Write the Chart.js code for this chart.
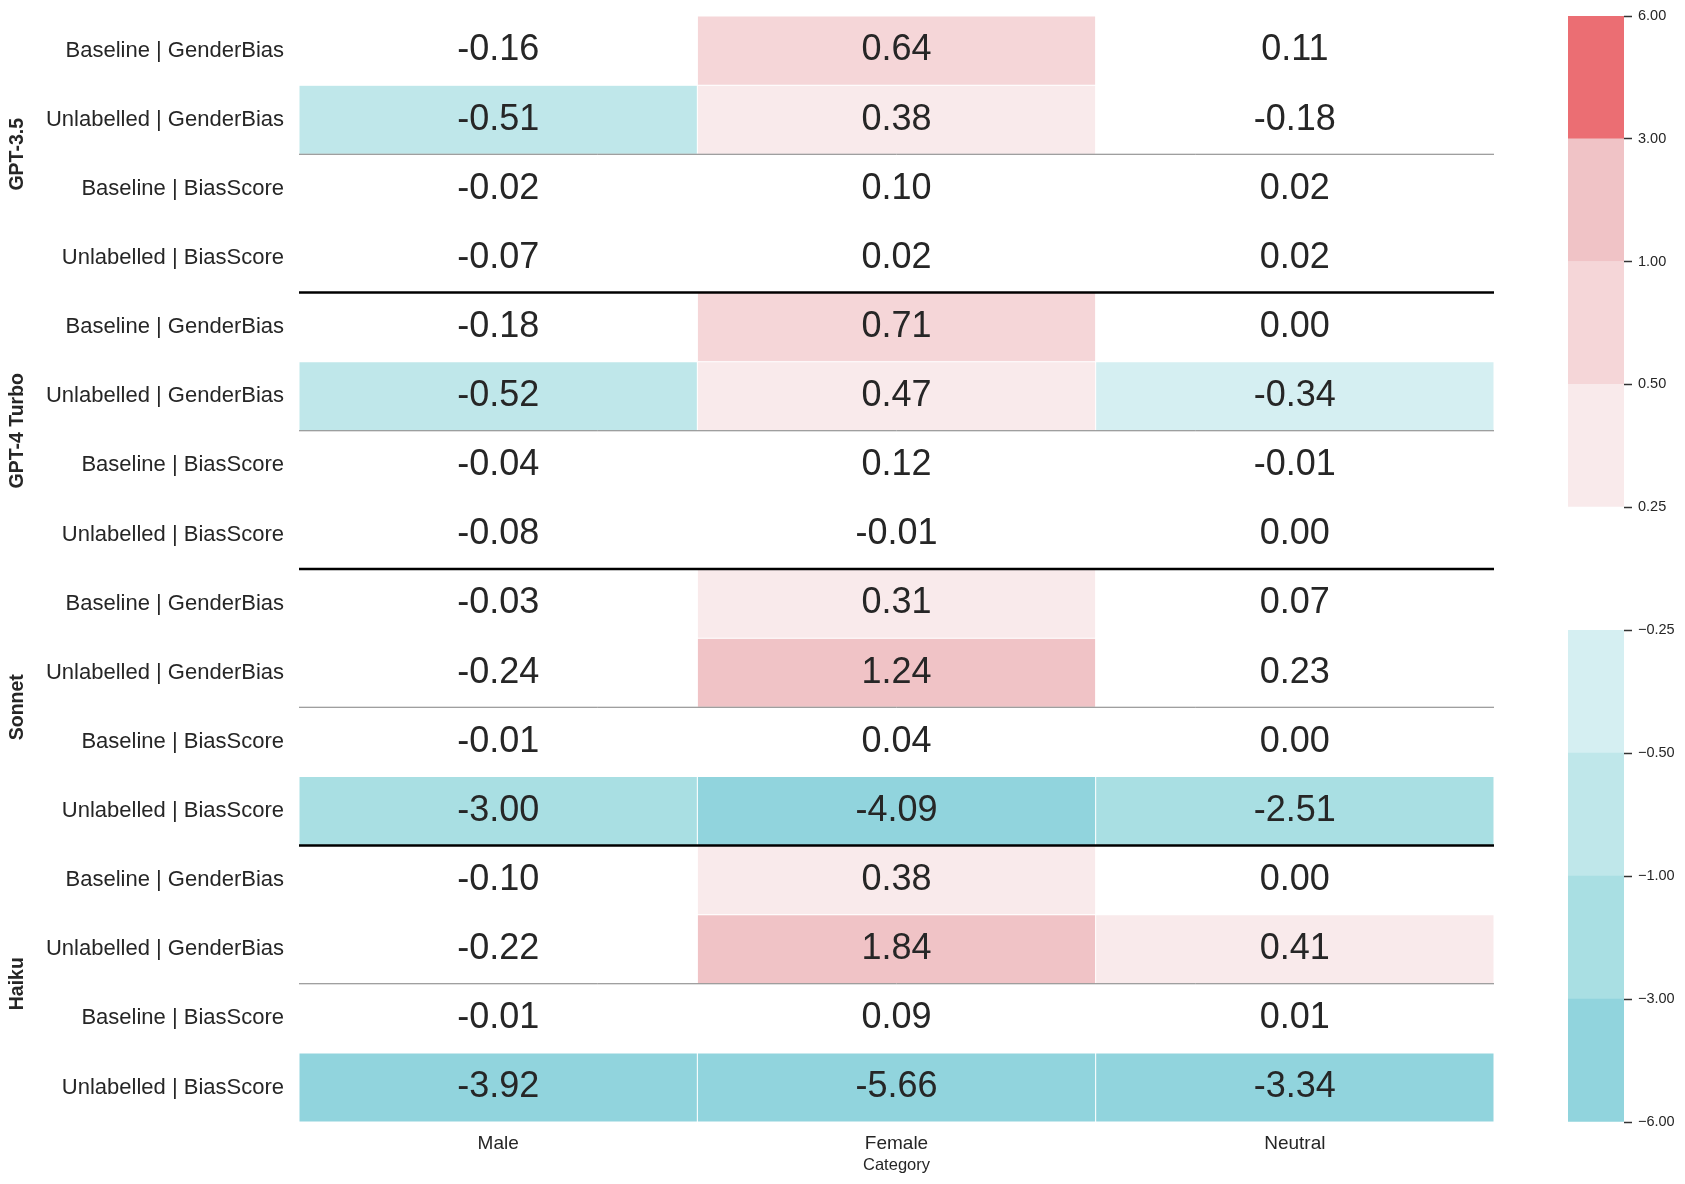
<!DOCTYPE html>
<html>
<head>
<meta charset="utf-8">
<title>Bias heatmap</title>
<script src="https://cdn.jsdelivr.net/npm/chart.js@4.4.1/dist/chart.umd.min.js"></script>
<style>
  html, body { margin: 0; padding: 0; background: #fff; }
  #wrap { position: relative; width: 1685px; height: 1184px; }
  canvas { position: absolute; }
</style>
</head>
<body>
<div id="wrap">
  <canvas id="heat" width="1685" height="1184" style="left:0;top:0;"></canvas>
  <canvas id="cbPos" width="117" height="530" style="left:1568px;top:0;"></canvas>
  <canvas id="cbNeg" width="117" height="545" style="left:1568px;top:600px;"></canvas>
</div>
<script>
// ============================================================
// Heatmap of bias scores per model / prompt setup / category,
// with two binned colorbars (positive reds, negative blues).
// ============================================================

const models   = ["GPT-3.5", "GPT-4 Turbo", "Sonnet", "Haiku"];
const setups   = ["Baseline | GenderBias", "Unlabelled | GenderBias",
                  "Baseline | BiasScore", "Unlabelled | BiasScore"];
const columns  = ["Male", "Female", "Neutral"];

// one value per row (4 setups x 4 models), top to bottom
const maleVals    = [-0.16, -0.51, -0.02, -0.07, -0.18, -0.52, -0.04, -0.08,
                     -0.03, -0.24, -0.01, -3.00, -0.10, -0.22, -0.01, -3.92];
const femaleVals  = [ 0.64,  0.38,  0.10,  0.02,  0.71,  0.47,  0.12, -0.01,
                      0.31,  1.24,  0.04, -4.09,  0.38,  1.84,  0.09, -5.66];
const neutralVals = [ 0.11, -0.18,  0.02,  0.02,  0.00, -0.34, -0.01,  0.00,
                      0.07,  0.23,  0.00, -2.51,  0.00,  0.41,  0.01, -3.34];

// colorbar bins (bottom to top) and their colours
const posBounds = [0.25, 0.5, 1, 3, 6];
const posColors = ["#f9eaeb", "#f5d6d8", "#f0c3c6", "#eb6e73"];
const negBounds = [-6, -3, -1, -0.5, -0.25];
const negColors = ["#91d4dd", "#a9dfe3", "#bfe7ea", "#d5eff2"];

const INK = "#262626";
const FONT = "'Liberation Sans', Arial, sans-serif";

const rowLabels = models.flatMap(() => setups);
const colValues = [maleVals, femaleVals, neutralVals];

// ---------- value -> bin colour ----------
function binColor(v) {
  for (let i = 0; i < posColors.length; i++)
    if (v >= posBounds[i] && v < posBounds[i + 1]) return posColors[i];
  for (let i = 0; i < negColors.length; i++)
    if (v >= negBounds[i] && v < negBounds[i + 1]) return negColors[i];
  if (v <= negBounds[negBounds.length - 1] && v >= negBounds[0]) return negColors[negColors.length - 1];
  return "#ffffff";
}

// Drop Chart.js's label-overflow padding so the plot box sits where we put it.
function noScalePadding(s) {
  s.paddingTop = 0; s.paddingBottom = 0; s.paddingLeft = 0; s.paddingRight = 0;
}

// ---------- overlay: cell text, separators, model names ----------
const overlay = {
  id: "overlay",
  afterDatasetsDraw(chart) {
    const { ctx, chartArea: a, scales: { y } } = chart;
    ctx.save();

    // cell annotations
    ctx.fillStyle = INK;
    ctx.font = `36px ${FONT}`;
    ctx.textAlign = "center";
    ctx.textBaseline = "middle";
    chart.data.datasets.forEach((ds, di) => {
      chart.getDatasetMeta(di).data.forEach((bar, i) => {
        const c = bar.getCenterPoint();
        ctx.fillText(colValues[di][i].toFixed(2), c.x, c.y);
      });
    });

    // row separators: thin inside a model, thick between models
    const edge = i => (y.getPixelForTick(i - 1) + y.getPixelForTick(i)) / 2;
    for (let i = 2; i < rowLabels.length; i += 2) {
      const major = i % setups.length === 0;
      ctx.strokeStyle = major ? "#000" : "#808080";
      ctx.lineWidth = major ? 2.5 : 1;
      const py = edge(i);
      ctx.beginPath();
      ctx.moveTo(a.left, py);
      ctx.lineTo(a.right, py);
      ctx.stroke();
    }

    // model names, rotated, centred on each group
    ctx.font = `bold 19.5px ${FONT}`;
    models.forEach((m, g) => {
      const cy = (y.getPixelForTick(g * 4) + y.getPixelForTick(g * 4 + 3)) / 2;
      ctx.save();
      ctx.translate(18, cy);
      ctx.rotate(-Math.PI / 2);
      ctx.fillText(m, 0, 0);
      ctx.restore();
    });
    ctx.restore();
  }
};

// ---------- heatmap ----------
new Chart(document.getElementById("heat"), {
  type: "bar",
  data: {
    labels: rowLabels,
    datasets: columns.map((name, ci) => ({
      label: name,
      data: colValues[ci].map(() => [ci, ci + 1]),
      backgroundColor: c => binColor(colValues[ci][c.dataIndex]),
      borderColor: "#ffffff",
      borderWidth: 0.5,
      borderSkipped: false,
      inflateAmount: 0,
      grouped: false,
      barPercentage: 1,
      categoryPercentage: 1,
    }))
  },
  options: {
    indexAxis: "y",
    responsive: false,
    animation: false,
    layout: { padding: { top: 16, right: 191, bottom: 0, left: 0 } },
    plugins: { legend: { display: false }, tooltip: { enabled: false } },
    scales: {
      x: {
        type: "linear", min: 0, max: columns.length,
        afterBuildTicks: s => { s.ticks = columns.map((_, i) => ({ value: i + 0.5 })); },
        afterFit: s => { s.height = 62; noScalePadding(s); },
        grid: { display: false, drawTicks: false },
        border: { display: false },
        ticks: { color: INK, font: { family: FONT, size: 19 }, padding: 10,
                 callback: v => columns[Math.floor(v)] },
        title: { display: true, text: "Category", color: INK,
                 font: { family: FONT, size: 16.5 }, padding: { top: 0, bottom: 9 } }
      },
      y: {
        afterFit: s => { s.width = 299; noScalePadding(s); },
        grid: { display: false, drawTicks: false },
        border: { display: false },
        ticks: { color: INK, font: { family: FONT, size: 22 }, padding: 15, autoSkip: false }
      }
    }
  },
  plugins: [overlay]
});

// ---------- colorbars ----------
function fmtBound(v) {
  return (v < 0 ? "\u2212" : "") + Math.abs(v).toFixed(2);
}

function colorbar(id, bounds, colors, padTop, padBottom) {
  new Chart(document.getElementById(id), {
    type: "bar",
    data: {
      labels: ["bar"],
      datasets: colors.map((col, i) => ({
        data: [[i, i + 1]],
        backgroundColor: col,
        borderWidth: 0,
        grouped: false,
        barPercentage: 1,
        categoryPercentage: 1,
      }))
    },
    options: {
      responsive: false,
      animation: false,
      layout: { padding: { top: padTop, bottom: padBottom, left: 0, right: 0 } },
      plugins: { legend: { display: false }, tooltip: { enabled: false } },
      scales: {
        x: { display: false },
        y: {
          position: "right", min: 0, max: colors.length,
          afterFit: s => { s.width = 61; },
          afterBuildTicks: s => { s.ticks = bounds.map((_, i) => ({ value: i })); },
          grid: { display: true, drawOnChartArea: false, drawTicks: true,
                  tickLength: 8, tickColor: "#333", tickWidth: 1.5 },
          border: { display: false },
          ticks: { color: INK, font: { family: FONT, size: 14.5 }, padding: 6,
                   callback: v => fmtBound(bounds[v]) }
        }
      }
    }
  });
}

colorbar("cbPos", posBounds, posColors, 16, 23);
colorbar("cbNeg", negBounds, negColors, 30, 23);
</script>
</body>
</html>
